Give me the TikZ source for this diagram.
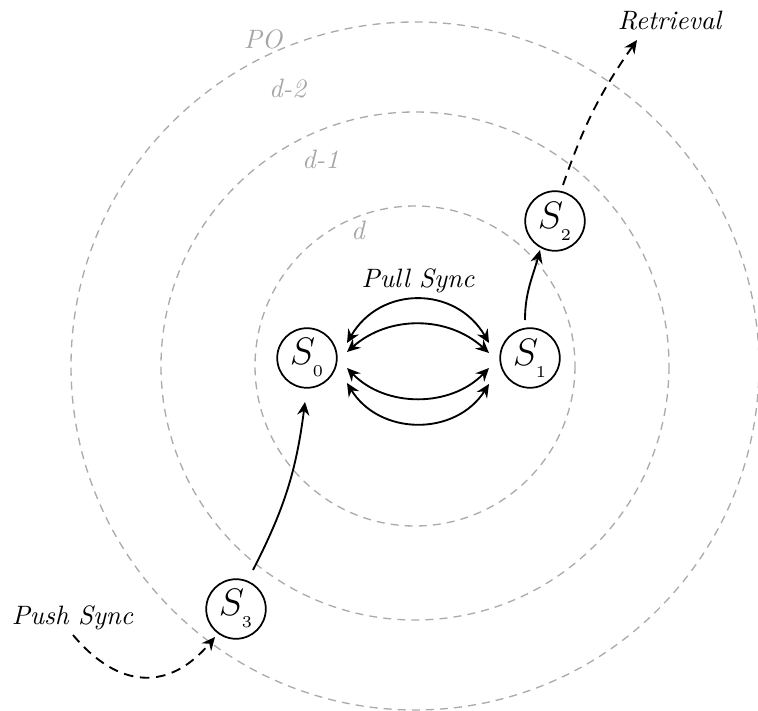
\documentclass[tikz,border=0pt]{standalone}
\usetikzlibrary{arrows.meta,calc}
\newcommand\Sname[1]{$S_{\raisebox{-2.4pt}{\fontsize{6.2pt}{6.2pt}\selectfont #1}}$}
\begin{document}
\begin{tikzpicture}[x=0.376pt,y=-0.376pt,
  ring/.style={draw=black!33,dash pattern=on 3pt off 2.3pt,line width=0.5pt},
  ringlabel/.style={text=black!35,font=\itshape},
  state/.style={circle,draw,line width=0.65pt,minimum size=22.4pt,inner sep=0pt,font=\Large},
  link/.style={line width=0.7pt,-{Stealth[length=5pt,width=4.6pt,inset=1.7pt]}},
  dlink/.style={line width=0.7pt,{Stealth[length=5pt,width=4.6pt,inset=1.7pt]}-{Stealth[length=5pt,width=4.6pt,inset=1.7pt]}},
  dashlink/.style={link,dash pattern=on 3.6pt off 2.5pt},
  lab/.style={font=\itshape}]
\useasboundingbox (0,0) rectangle (758,711);
\coordinate (c) at (415,366);
\draw[ring] (c) circle[radius=160];
\draw[ring] (c) circle[radius=254];
\draw[ring] (c) circle[radius=344];
\node[ringlabel] (lpo) at (263,39) {PO};
\node[ringlabel] (ld2) at (287.5,88.7) {d-2};
\node[ringlabel] (ld1) at (320.5,159.5) {d-1};
\node[ringlabel] (ld) at (358,230) {d};
\node[state] (s0) at (307,358) {\Sname{0}};
\node[state] (s1) at (530,358) {\Sname{1}};
\node[state] (s2) at (555,221) {\Sname{2}};
\node[state] (s3) at (236,609) {\Sname{3}};
\node[lab] (pull) at (418,281) {Pull Sync};
\node[lab] (push) at (72.5,618) {Push Sync};
\node[lab] (retr) at (669.5,20.3) {Retrieval};
\coordinate (rtip) at (637,40);
\coordinate (pstart) at (73,635);
\draw[dlink] ($(s0)+(40,-15)$) to[bend left=60,looseness=1.2] ($(s1)+(-41,-15)$);
\draw[dlink] ($(s0)+(40,-6)$) to[bend left=42] ($(s1)+(-41,-5)$);
\draw[dlink] ($(s0)+(40,10)$) to[bend right=46] ($(s1)+(-41,10)$);
\draw[dlink] ($(s0)+(40,25)$) to[bend right=58,looseness=1.12] ($(s1)+(-41,26)$);
\draw[link] ($(s3)+(17,-39)$) to[bend right=10] ($(s0)+(-2,44)$);
\draw[link] ($(s1)+(-5,-38)$) to[out=90,in=-105] ($(s2)+(-15,29)$);
\draw[dashlink] ($(s2)+(8,-36)$) to[bend left=8] (rtip);
\draw[dashlink] (pstart) to[out=-50,in=-130,looseness=1.28] ($(s3)+(-21,28)$);
\end{tikzpicture}
\end{document}
